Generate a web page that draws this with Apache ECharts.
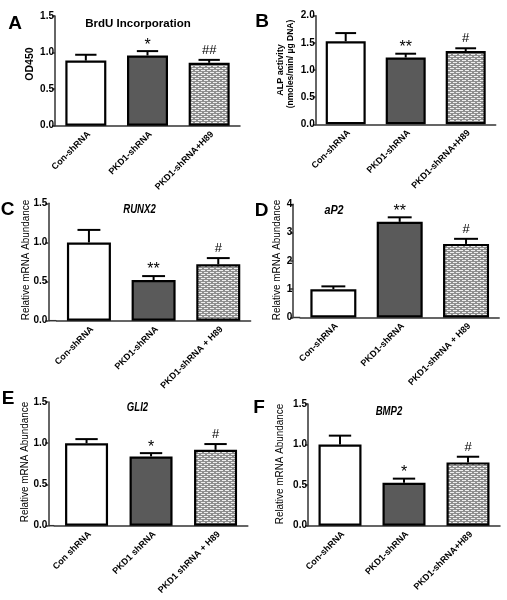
<!DOCTYPE html>
<html><head><meta charset="utf-8">
<script src="https://cdn.jsdelivr.net/npm/echarts@6/dist/echarts.min.js"></script>
<style>html,body{margin:0;padding:0;background:#fff}#c{width:507px;height:600px}</style>
</head><body><div id="c"></div>
<script>
// ---- data ----
const catsA = ['Con-shRNA', 'PKD1-shRNA', 'PKD1-shRNA+H89'];
const meanA = [0.89, 0.96, 0.86];
const semA  = [0.08, 0.06, 0.04];
const markA = ['', '*', '##'];

const catsB = ['Con-shRNA', 'PKD1-shRNA', 'PKD1-shRNA+H89'];
const meanB = [1.53, 1.23, 1.35];
const semB  = [0.15, 0.07, 0.05];
const markB = ['', '**', '#'];

const catsC = ['Con-shRNA', 'PKD1-shRNA', 'PKD1-shRNA + H89'];
const meanC = [1.0, 0.52, 0.72];
const semC  = [0.16, 0.05, 0.08];
const markC = ['', '**', '#'];

const catsD = ['Con-shRNA', 'PKD1-shRNA', 'PKD1-shRNA + H89'];
const meanD = [1.0, 3.38, 2.6];
const semD  = [0.1, 0.16, 0.18];
const markD = ['', '**', '#'];

const catsE = ['Con shRNA', 'PKD1 shRNA', 'PKD1 shRNA + H89'];
const meanE = [1.0, 0.84, 0.92];
const semE  = [0.05, 0.04, 0.07];
const markE = ['', '*', '#'];

const catsF = ['Con-shRNA', 'PKD1-shRNA', 'PKD1-shRNA+H89'];
const meanF = [1.0, 0.53, 0.78];
const semF  = [0.11, 0.05, 0.07];
const markF = ['', '*', '#'];

// ---- styling / layout ----
const FF = "'Liberation Sans', Arial, sans-serif";
const AX = '#333';

const pc = document.createElement('canvas');
pc.width = 6; pc.height = 4;
const g = pc.getContext('2d');
g.fillStyle = '#8e8e8e'; g.fillRect(0, 0, 6, 4);
g.fillStyle = '#eeeeee';
g.fillRect(0, 0, 4, 1);
g.fillRect(0, 2, 1, 1); g.fillRect(3, 2, 3, 1);
const fills = ['#ffffff', '#5a5a5a', { image: pc, repeat: 'repeat' }];

const panels = [
  { cats: catsA, mean: meanA, sem: semA, mark: markA, yMax: 1.5, yInt: 0.5, dec: 1, left: 55, top: 16, width: 185, height: 109.7, barW: 41, off: 0 },
  { cats: catsB, mean: meanB, sem: semB, mark: markB, yMax: 2.0, yInt: 0.5, dec: 1, left: 315.7, top: 15.7, width: 180, height: 108.6, barW: 40, off: 0 },
  { cats: catsC, mean: meanC, sem: semC, mark: markC, yMax: 1.5, yInt: 0.5, dec: 1, left: 56.6, top: 203.3, width: 194, height: 117.4, barW: 44, off: 8.3 },
  { cats: catsD, mean: meanD, sem: semD, mark: markD, yMax: 4, yInt: 1, dec: 0, left: 300.2, top: 204.3, width: 199, height: 113.2, barW: 46, off: 7 },
  { cats: catsE, mean: meanE, sem: semE, mark: markE, yMax: 1.5, yInt: 0.5, dec: 1, left: 54.3, top: 402, width: 193.5, height: 123.7, barW: 43, off: 6 },
  { cats: catsF, mean: meanF, sem: semF, mark: markF, yMax: 1.5, yInt: 0.5, dec: 1, left: 308, top: 404, width: 192, height: 121.7, barW: 43, off: 0 }
];

const grid = [], xAxis = [], yAxis = [], series = [], graphic = [];

panels.forEach((p, i) => {
  grid.push({ left: p.left, top: p.top, width: p.width, height: p.height, containLabel: false });
  xAxis.push({
    type: 'category', gridIndex: i, data: p.cats,
    axisLine: { lineStyle: { color: AX, width: 1.5 } },
    axisTick: { alignWithLabel: true, length: 3, lineStyle: { color: AX, width: 1.5 } },
    axisLabel: { rotate: 45, interval: 0, margin: 4, verticalAlign: 'top', color: '#000', fontFamily: FF, fontWeight: 'bold', fontSize: 9 }
  });
  yAxis.push({
    type: 'value', gridIndex: i, min: 0, max: p.yMax, interval: p.yInt, offset: p.off,
    splitLine: { show: false },
    axisLine: { show: true, lineStyle: { color: AX, width: 1.5 } },
    axisTick: { show: true, length: 3, lineStyle: { color: AX, width: 1.5 } },
    axisLabel: { margin: 1, color: '#000', fontFamily: FF, fontWeight: 'bold', fontSize: 10,
      formatter: v => v.toFixed(p.dec) }
  });
  series.push({
    type: 'bar', xAxisIndex: i, yAxisIndex: i, barWidth: p.barW, silent: true,
    itemStyle: { borderColor: '#000', borderWidth: 2.2 },
    data: p.mean.map((v, j) => ({ value: v, itemStyle: { color: fills[j] } }))
  });
  series.push({
    type: 'custom', xAxisIndex: i, yAxisIndex: i, silent: true, z: 5,
    encode: { x: 0, y: 1 },
    data: p.mean.map((v, j) => [j, v, p.sem[j]]),
    renderItem: (params, api) => {
      const j = api.value(0), m = api.value(1), s = api.value(2);
      const p0 = api.coord([j, m]);
      const p1 = api.coord([j, m + s]);
      const cap = p.barW * 0.52 / 2;
      const mk = p.mark[params.dataIndex];
      const star = mk.indexOf('*') >= 0;
      const children = [
        { type: 'line', shape: { x1: p0[0], y1: p0[1], x2: p1[0], y2: p1[1] }, style: { stroke: '#000', lineWidth: 2 } },
        { type: 'line', shape: { x1: p1[0] - cap, y1: p1[1], x2: p1[0] + cap, y2: p1[1] }, style: { stroke: '#000', lineWidth: 2 } }
      ];
      if (mk) {
        children.push({
          type: 'text',
          style: { text: mk, x: p1[0], y: p1[1] - (star ? 6 : 9.5), align: 'center', verticalAlign: 'middle',
            font: (star ? '16px ' : '13px ') + FF, fill: '#000' }
        });
      }
      return { type: 'group', children };
    }
  });
  if (p.off > 0) {
    const yb = p.top + p.height;
    graphic.push({ type: 'line', silent: true, shape: { x1: p.left - p.off, y1: yb, x2: p.left, y2: yb },
      style: { stroke: AX, lineWidth: 1.5 } });
  }
});

function txt(text, x, y, font, rot, sx) {
  graphic.push({ type: 'text', x: x, y: y, rotation: rot || 0, scaleX: sx || 1, silent: true,
    style: { text: text, font: font, fill: '#000', align: 'center', verticalAlign: 'middle', textAlign: 'center', textVerticalAlign: 'middle' } });
}
// panel letters
txt('A', 15, 23.5, 'bold 19px ' + FF);
txt('B', 262, 22, 'bold 19px ' + FF);
txt('C', 7.5, 209.5, 'bold 19px ' + FF);
txt('D', 261.5, 210.5, 'bold 19px ' + FF);
txt('E', 8, 399, 'bold 19px ' + FF);
txt('F', 259, 408, 'bold 19px ' + FF);
// panel titles
txt('BrdU Incorporation', 138, 23.5, 'bold 11.5px ' + FF);
txt('RUNX2', 139.5, 210, 'italic bold 12px ' + FF, 0, 0.8);
txt('aP2', 334, 211, 'italic bold 12px ' + FF, 0, 0.9);
txt('GLI2', 137.5, 408, 'italic bold 12px ' + FF, 0, 0.8);
txt('BMP2', 389, 412, 'italic bold 12px ' + FF, 0, 0.8);
// y-axis titles
const R = Math.PI / 2;
txt('OD450', 30, 64, 'bold 10.5px ' + FF, R);
txt('ALP activity', 281, 70, 'bold 9px ' + FF, R);
txt('(nmoles/min/ \u00b5g DNA)', 290.5, 64, 'bold 8.5px ' + FF, R);
txt('Relative mRNA Abundance', 26, 260, '11px ' + FF, R, 0.9);
txt('Relative mRNA Abundance', 277, 260, '11px ' + FF, R, 0.9);
txt('Relative mRNA Abundance', 25, 462, '11px ' + FF, R, 0.9);
txt('Relative mRNA Abundance', 280, 464, '11px ' + FF, R, 0.9);

const chart = echarts.init(document.getElementById('c'), null, { renderer: 'canvas' });
chart.setOption({ animation: false, backgroundColor: '#fff', grid, xAxis, yAxis, series, graphic });
</script>
</body></html>
